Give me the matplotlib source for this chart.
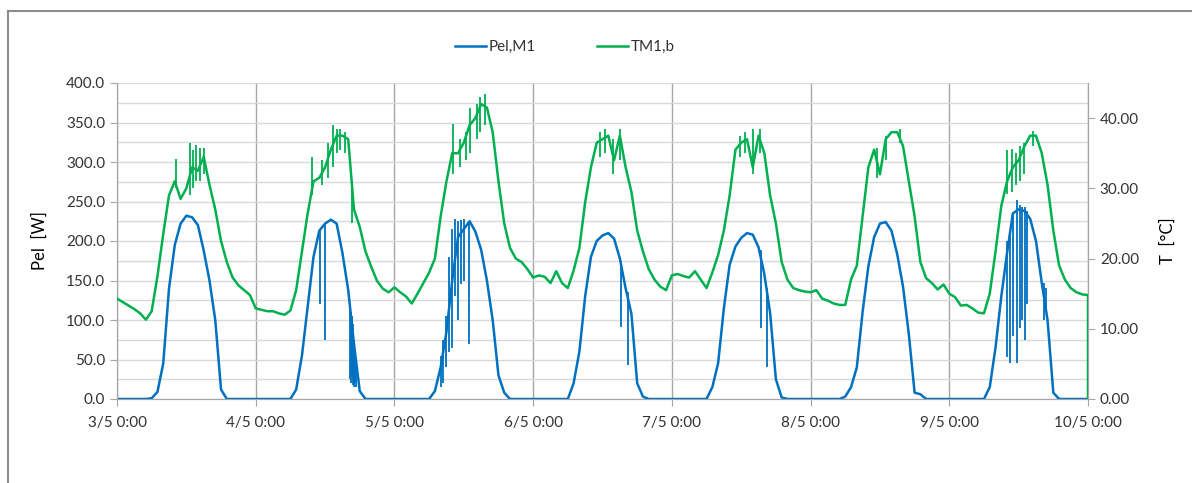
import numpy as np
import matplotlib
matplotlib.use("Agg")
import matplotlib.pyplot as plt
from matplotlib.lines import Line2D
from matplotlib.ticker import MultipleLocator, FormatStrFormatter

plt.rcParams['font.family'] = ['Lato', 'DejaVu Sans']

# hours since 3/5 0:00, one reading per hour (last point: sensor drops to 0)
hours = list(range(169)) + [168]

day_labels = ["3/5 0:00", "4/5 0:00", "5/5 0:00", "6/5 0:00",
              "7/5 0:00", "8/5 0:00", "9/5 0:00", "10/5 0:00"]

# TM1,b  [°C]
temp = [
    14.3, 13.8, 13.3, 12.8, 12.2, 11.3, 12.5, 17.5, 23.5, 29.0, 31.0, 28.5,
    30.0, 33.0, 32.5, 34.5, 30.5, 27.0, 22.5, 19.5, 17.3, 16.2, 15.5, 14.8,
    12.9, 12.7, 12.5, 12.5, 12.2, 12.0, 12.6, 15.5, 21.0, 26.5, 31.0, 31.5,
    33.0, 35.5, 37.5, 37.5, 37.0, 27.0, 24.5, 21.0, 18.8, 16.8, 15.7, 15.2,
    15.9, 15.2, 14.6, 13.6, 15.0, 16.5, 18.0, 20.0, 26.0, 31.0, 35.0, 35.0,
    36.5, 39.0, 40.0, 42.0, 41.5, 38.0, 31.0, 25.0, 21.5, 20.0, 19.5, 18.5,
    17.3, 17.6, 17.4, 16.5, 18.2, 16.5, 15.8, 18.3, 21.5, 28.0, 33.0, 36.5,
    37.0, 37.5, 34.0, 37.5, 33.0, 29.5, 24.0, 21.0, 18.5, 17.0, 16.0, 15.5,
    17.6, 17.8, 17.5, 17.3, 18.2, 17.0, 15.8, 18.0, 20.5, 24.0, 29.0, 35.5,
    36.5, 37.0, 33.0, 37.5, 35.0, 29.0, 25.0, 19.5, 17.0, 15.8, 15.5, 15.3,
    15.2, 15.5, 14.3, 14.0, 13.6, 13.4, 13.4, 17.0, 19.0, 26.0, 33.0, 35.5,
    32.0, 37.0, 38.0, 38.0, 36.0, 31.0, 26.0, 19.5, 17.2, 16.5, 15.6, 16.3,
    15.0, 14.5, 13.3, 13.4, 12.9, 12.3, 12.2, 15.0, 21.0, 27.5, 31.0, 33.0,
    34.0, 36.0, 37.5, 37.5, 35.0, 30.5, 24.0, 19.0, 17.0, 15.8, 15.2, 14.9,
    14.8, 0.0,
]

# Pel,M1  [W]
pel = [
    0, 0, 0, 0, 0, 0, 1, 9, 45, 140, 195, 222,
    232, 230, 220, 188, 150, 100, 12, 0, 0, 0, 0, 0,
    0, 0, 0, 0, 0, 0, 0, 12, 55, 118, 180, 213,
    222, 227, 222, 185, 138, 70, 10, 0, 0, 0, 0, 0,
    0, 0, 0, 0, 0, 0, 0, 10, 40, 85, 150, 205,
    215, 225, 212, 189, 150, 100, 30, 8, 0, 0, 0, 0,
    0, 0, 0, 0, 0, 0, 0, 20, 60, 130, 180, 200,
    207, 210, 203, 178, 140, 108, 20, 3, 0, 0, 0, 0,
    0, 0, 0, 0, 0, 0, 0, 15, 45, 115, 170, 193,
    204, 210, 208, 192, 158, 109, 25, 2, 0, 0, 0, 0,
    0, 0, 0, 0, 0, 0, 3, 15, 40, 110, 168, 205,
    222, 224, 213, 183, 142, 82, 8, 6, 0, 0, 0, 0,
    0, 0, 0, 0, 0, 0, 0, 15, 65, 130, 185, 235,
    240, 238, 228, 200, 147, 100, 8, 0, 0, 0, 0, 0,
    0,
]

# short dips / jumps in Pel: hour, low, high
pel_spike_h = [35.1, 36.0, 40.3, 40.45, 40.6, 40.75, 40.9, 41.05, 41.2, 41.35,
               56.1, 56.4, 56.9, 57.4, 58.0, 58.5, 59.0, 59.5, 60.1, 60.9,
               87.2, 88.4, 111.4, 112.5,
               154.0, 154.5, 155.0, 155.7, 156.2, 156.6, 157.1, 157.5, 160.4, 160.8]
pel_spike_lo = [120, 75, 25, 20, 30, 18, 25, 15, 20, 15,
                15, 20, 40, 60, 65, 130, 100, 145, 150, 70,
                91, 43, 90, 41,
                53, 45, 80, 45, 90, 100, 75, 120, 100, 110]
pel_spike_hi = [213, 222, 118, 110, 105, 95, 85, 75, 60, 40,
                55, 75, 105, 180, 215, 228, 225, 227, 228, 225,
                175, 135, 188, 140,
                200, 212, 235, 252, 245, 243, 243, 238, 147, 140]

# short spikes in TM1,b: hour, low, high
temp_spike_h = [10.2, 12.6, 13.1, 13.6, 14.4, 15.1,
                33.7, 35.5, 36.5, 37.4, 38.0, 38.6, 39.4, 40.7,
                58.1, 59.3, 60.3, 61.1, 62.3, 62.8, 63.7,
                83.5, 84.4, 85.8, 87.0,
                107.8, 108.7, 110.0, 111.2,
                131.5, 133.0, 135.5,
                154.0, 154.8, 155.5, 156.3, 157.0, 158.5]
temp_spike_lo = [30, 29, 30, 31, 31, 32,
                 29, 30.5, 31.5, 33, 35, 35.5, 35, 25,
                 32, 33, 34, 35, 37, 38, 39,
                 34.5, 35, 32, 34,
                 34.5, 35, 32, 35,
                 31.5, 34, 36.5,
                 29.2, 29.5, 30.5, 31, 32, 36]
temp_spike_hi = [34.2, 36.4, 35.5, 36.2, 35.8, 35.8,
                 34.5, 34, 36.5, 39, 38.5, 38.5, 38, 31,
                 39.2, 37, 38, 41.5, 42, 43, 43.5,
                 38, 38.5, 37, 38.5,
                 37.5, 38, 38.5, 38.5,
                 35.8, 37.5, 38.5,
                 35.4, 35.6, 35, 36, 36.4, 38.2]

blue = '#0070C0'
green = '#00B050'
txt = '#333333'

fig = plt.figure(figsize=(11.92, 4.83), dpi=100)
ax = fig.add_axes([117/1192, 84/483, 971/1192, 316/483])
ax2 = ax.twinx()

# Pel on left axis
ax.plot(hours[:-1], pel, color=blue, lw=1.8, zorder=3)
ax.vlines(pel_spike_h, pel_spike_lo, pel_spike_hi, color=blue, lw=1.3, zorder=3)

# temperature on right axis
ax2.plot(hours, temp, color=green, lw=1.8, zorder=3)
ax2.vlines(temp_spike_h, temp_spike_lo, temp_spike_hi, color=green, lw=1.3, zorder=3)

ax.set_xlim(0, 168)
ax.set_ylim(0, 400)
ax2.set_ylim(0, 45)

ax.set_xticks(np.arange(0, 169, 24))
ax.set_xticklabels(day_labels)
ax.yaxis.set_major_locator(MultipleLocator(50))
ax.yaxis.set_minor_locator(MultipleLocator(25))
ax.yaxis.set_major_formatter(FormatStrFormatter('%.1f'))
ax2.yaxis.set_major_locator(MultipleLocator(10))
ax2.yaxis.set_major_formatter(FormatStrFormatter('%.2f'))

ax.grid(True, which='both', axis='y', color='#d9d9d9', lw=1.0)
ax.grid(True, which='major', axis='x', color='#a6a6a6', lw=1.0)
ax.set_axisbelow(True)

for a in (ax, ax2):
    for s in a.spines.values():
        s.set_color('#a6a6a6')
    a.spines['top'].set_visible(False)
    a.tick_params(which='both', direction='out', color='#a6a6a6', labelcolor=txt,
                  labelsize=11, length=5)
ax.tick_params(axis='y', which='minor', length=0)
ax.tick_params(axis='x', pad=7)

ax.set_ylabel('Pel  [W]', fontsize=12, color='black')
ax.yaxis.set_label_coords(-0.071, 0.5)
ax2.set_ylabel('T  [°C]', fontsize=12, color='black', rotation=90)
ax2.yaxis.set_label_coords(1.074, 0.5)

handles = [Line2D([0], [0], color=blue, lw=1.8), Line2D([0], [0], color=green, lw=1.8)]
fig.legend(handles, ['Pel,M1', 'TM1,b'], loc='center', bbox_to_anchor=(0.474, 0.903),
           ncol=2, frameon=False, fontsize=11, handlelength=2.0, handletextpad=0.2,
           columnspacing=4.0, labelcolor=txt)

# outer chart frame (left and top edge)
fx = 8 / 1192
fy = 1 - 11 / 483
fig.add_artist(Line2D([fx, 1], [fy, fy], color='#8c8c8c', lw=1.5))
fig.add_artist(Line2D([fx, fx], [0, fy], color='#8c8c8c', lw=1.5))

fig.savefig('out.png', dpi=100)
